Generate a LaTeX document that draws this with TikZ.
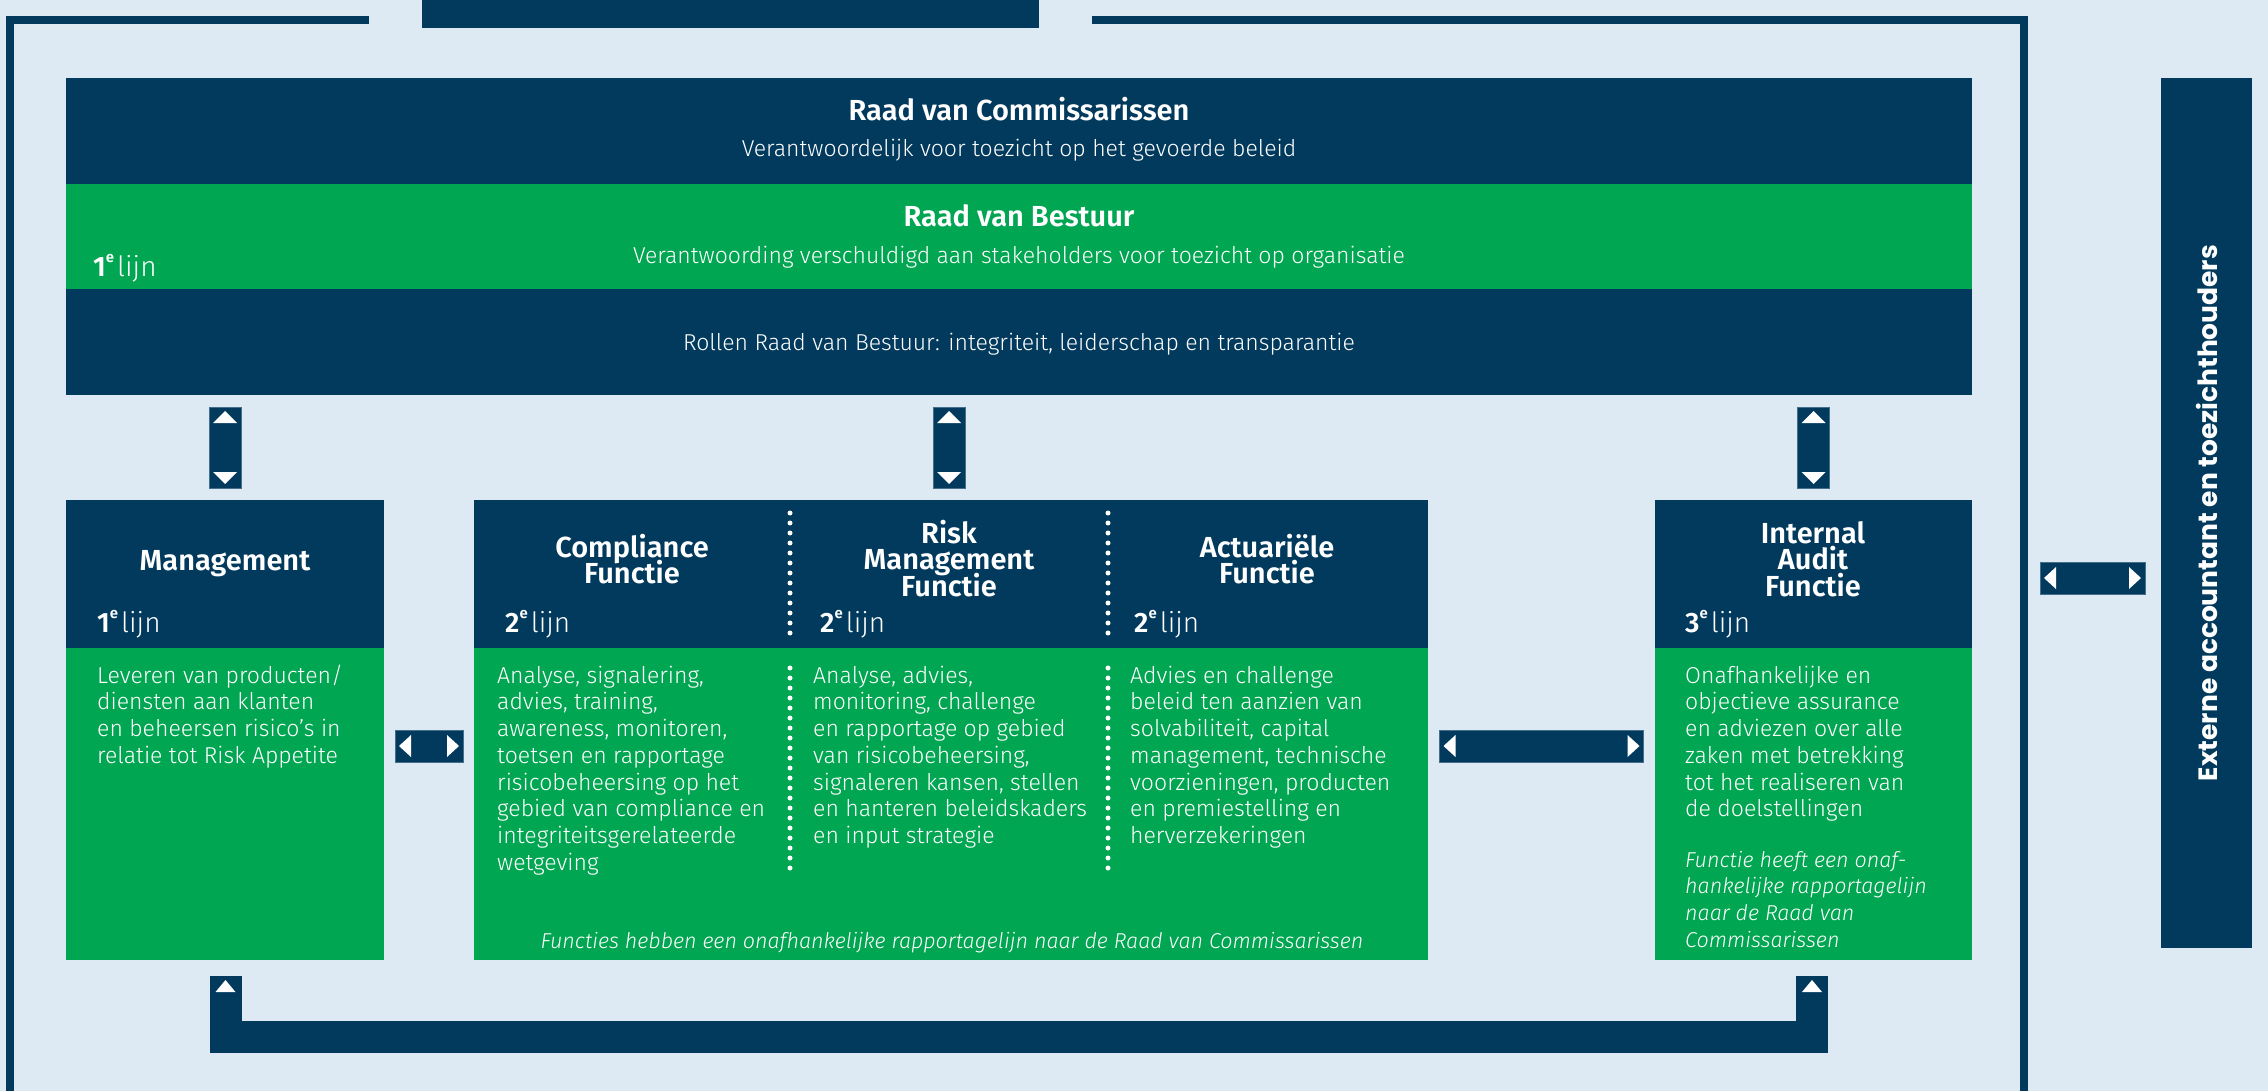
\documentclass[tikz,border=0pt]{standalone}
\usepackage{fontspec}
\setmainfont{Fira Sans}[UprightFont={* Light},BoldFont={* SemiBold},ItalicFont={* Light Italic},BoldItalicFont={* SemiBold Italic}]
\newfontfamily\popfont{Poppins}
\usetikzlibrary{calc}
\definecolor{navy}{HTML}{023A5D}
\definecolor{grn}{HTML}{00A651}
\definecolor{bgc}{HTML}{DDEAF3}
\newcommand\lijnlbl[1]{{\bfseries #1\raisebox{0.5em}{\fontsize{15}{15}\selectfont e}}\hspace{3pt}lijn}
\newcommand\toprl{\rule{0pt}{24pt}}
\newcommand\bodyrl{\rule{0pt}{19pt}}
\newcommand\vtris[1]{%
 \fill[white] ($(#1.north)+(0,4)$) -- ($(#1.north)+(-12,16)$) -- ($(#1.north)+(12,16)$) -- cycle;
 \fill[white] ($(#1.south)+(0,-4)$) -- ($(#1.south)+(-12,-16)$) -- ($(#1.south)+(12,-16)$) -- cycle;}
\newcommand\htris[1]{%
 \fill[white] ($(#1.west)+(4,0)$) -- ($(#1.west)+(16,-11)$) -- ($(#1.west)+(16,11)$) -- cycle;
 \fill[white] ($(#1.east)+(-4,0)$) -- ($(#1.east)+(-16,-11)$) -- ($(#1.east)+(-16,11)$) -- cycle;}
\begin{document}
\setlength{\lineskiplimit}{-30pt}
\begin{tikzpicture}[x=1pt,y=-1pt,
  nv/.style={fill=navy,inner sep=0pt,outer sep=0pt,anchor=north west},
  gr/.style={fill=grn,inner sep=0pt,outer sep=0pt,anchor=north west},
  cbox/.style={fill=navy,draw=navy!70!bgc,line width=1pt,inner sep=0pt,outer sep=0pt},
  ttl/.style={text=white,inner sep=0pt,align=center,anchor=north,font=\fontsize{29}{26.7}\selectfont\bfseries},
  ttlb/.style={text=white,inner sep=0pt,anchor=base,font=\fontsize{29}{26.7}\selectfont\bfseries},
  subt/.style={text=white,inner sep=0pt,anchor=base,font=\fontsize{23}{26}\selectfont},
  bodytxt/.style={text=white,inner sep=0pt,align=left,anchor=north west,font=\fontsize{23}{26.7}\selectfont},
  notetxt/.style={text=white,inner sep=0pt,align=left,font=\fontsize{21.5}{26.7}\selectfont\itshape},
  lbl/.style={text=white,inner sep=0pt,anchor=base west,font=\fontsize{28}{30}\selectfont},
  frameln/.style={draw=navy,line width=8pt,line join=miter},
  sepdots/.style={draw=white,line width=5pt,line cap=round,dash pattern=on 0pt off 10pt}
]
\useasboundingbox (0,0) rectangle (2268,1091);
\fill[bgc] (0,0) rectangle (2268,1091);

% outer frame
\node[nv,minimum width=617pt,minimum height=28pt] (topbar) at (422,0) {};
\coordinate (fl1) at (369,20);
\coordinate (fl2) at (10,20);
\coordinate (fl3) at (10,1100);
\coordinate (fr1) at (1092,20);
\coordinate (fr2) at (2024,20);
\coordinate (fr3) at (2024,1100);
\draw[frameln] (fl1) -- (fl2) -- (fl3);
\draw[frameln] (fr1) -- (fr2) -- (fr3);

% top blocks
\node[nv,minimum width=1906pt,minimum height=106pt] (rvc) at (66,78) {};
\node[gr,minimum width=1906pt,minimum height=105pt] (rvb) at (66,184) {};
\node[nv,minimum width=1906pt,minimum height=106pt] (rol) at (66,289) {};

% function blocks
\node[nv,minimum width=318pt,minimum height=148pt] (mh) at (66,500) {};
\node[gr,minimum width=318pt,minimum height=312pt] (mb) at (66,648) {};
\node[nv,minimum width=954pt,minimum height=148pt] (sh) at (474,500) {};
\node[gr,minimum width=954pt,minimum height=312pt] (sb) at (474,648) {};
\node[nv,minimum width=317pt,minimum height=148pt] (ih) at (1655,500) {};
\node[gr,minimum width=317pt,minimum height=312pt] (ib) at (1655,648) {};
\node[nv,minimum width=91pt,minimum height=870pt] (ext) at (2161,78) {};

% texts top
\node[ttlb] (trvc) at (1019,121) {Raad van Commissarissen};
\node[subt] (srvc) at (1019,157) {Verantwoordelijk voor toezicht op het gevoerde beleid};
\node[ttlb] (trvb) at (1019,227) {Raad van Bestuur};
\node[subt] (srvb) at (1019,264) {Verantwoording verschuldigd aan stakeholders voor toezicht op organisatie};
\node[lbl] (l0) at (93,277) {\lijnlbl{1}};
\node[subt] (trol) at (1019,351) {Rollen Raad van Bestuur: integriteit, leiderschap en transparantie};

% titles
\node[ttl] (tm) at (225,546) {\toprl Management};
\node[ttl] (tc) at (632,533) {\toprl Compliance\\Functie};
\node[ttl] (tr) at (949,519) {\toprl Risk\\Management\\Functie};
\node[ttl] (ta) at (1267,533) {\toprl Actuariële\\Functie};
\node[ttl] (ti) at (1813,519) {\toprl Internal\\Audit\\Functie};

\node[lbl] (l1) at (97,632) {\lijnlbl{1}};
\node[lbl] (l2) at (505,632) {\lijnlbl{2}};
\node[lbl] (l3) at (820,632) {\lijnlbl{2}};
\node[lbl] (l4) at (1134,632) {\lijnlbl{2}};
\node[lbl] (l5) at (1685,632) {\lijnlbl{3}};

% bodies
\node[bodytxt] (bm) at (97,664) {\bodyrl Leveren van producten/\\diensten aan klanten\\en beheersen risico’s in\\relatie tot Risk Appetite};
\node[bodytxt] (bc) at (497,664) {\bodyrl Analyse, signalering,\\advies, training,\\awareness, monitoren,\\toetsen en rapportage\\risicobeheersing op het\\gebied van compliance en\\integriteitsgerelateerde\\wetgeving};
\node[bodytxt] (br) at (813,664) {\bodyrl Analyse, advies,\\monitoring, challenge\\en rapportage op gebied\\van risicobeheersing,\\signaleren kansen, stellen\\en hanteren beleidskaders\\en input strategie};
\node[bodytxt] (ba) at (1130,664) {\bodyrl Advies en challenge\\beleid ten aanzien van\\solvabiliteit, capital\\management, technische\\voorzieningen, producten\\en premiestelling en\\herverzekeringen};
\node[bodytxt] (bi) at (1685,664) {\bodyrl Onafhankelijke en\\objectieve assurance\\en adviezen over alle\\zaken met betrekking\\tot het realiseren van\\de doelstellingen};
\node[notetxt,anchor=north west] (ni) at (1685,848) {\bodyrl Functie heeft een onaf-\\hankelijke rapportagelijn\\naar de Raad van\\Commissarissen};
\node[notetxt,anchor=base] (ns) at (952,948) {Functies hebben een onafhankelijke rapportagelijn naar de Raad van Commissarissen};

% external
\node[text=white,rotate=90,inner sep=0pt,font=\popfont\bfseries\fontsize{26.5}{26.5}\selectfont] (te) at (ext.center) {Externe accountant en toezichthouders};

% dotted separators
\draw[sepdots] (790,513) -- (790,636);
\draw[sepdots] (790,668) -- (790,874);
\draw[sepdots] (1108,513) -- (1108,636);
\draw[sepdots] (1108,668) -- (1108,874);

% connectors
\node[cbox,minimum width=32pt,minimum height=81pt] (v1) at ($(mh.north |- rol.south)!0.5!(mh.north)$) {};
\node[cbox,minimum width=32pt,minimum height=81pt] (v2) at ($(tr.north |- rol.south)!0.5!(tr.north |- sh.north)$) {};
\node[cbox,minimum width=32pt,minimum height=81pt] (v3) at ($(ih.north |- rol.south)!0.5!(ih.north)$) {};
\vtris{v1}\vtris{v2}\vtris{v3}
\node[cbox,minimum width=68pt,minimum height=32pt] (h1) at ($(mb.north east)!0.5!(sb.north west)+(0,98)$) {};
\node[cbox,minimum width=204pt,minimum height=32pt] (h2) at ($(sb.north east)!0.5!(ib.north west)+(0,98)$) {};
\node[cbox,minimum width=105pt,minimum height=32pt] (h3) at ($(fr2 |- ext.west)!0.5!(ext.west)+(0,65)$) {};
\htris{h1}\htris{h2}\htris{h3}

% bottom U connector
\coordinate (u1) at ($(mb.south)+(0.5,16)$);
\coordinate (u2) at ($(ib.south)+(-1.5,16)$);
\draw[navy,line width=32pt,line join=miter] (u1) -- ++(0,61) -| (u2);
\fill[white] ($(u1)+(0,4)$) -- ($(u1)+(-10,16)$) -- ($(u1)+(10,16)$) -- cycle;
\fill[white] ($(u2)+(0,4)$) -- ($(u2)+(-10,16)$) -- ($(u2)+(10,16)$) -- cycle;
\end{tikzpicture}
\end{document}
